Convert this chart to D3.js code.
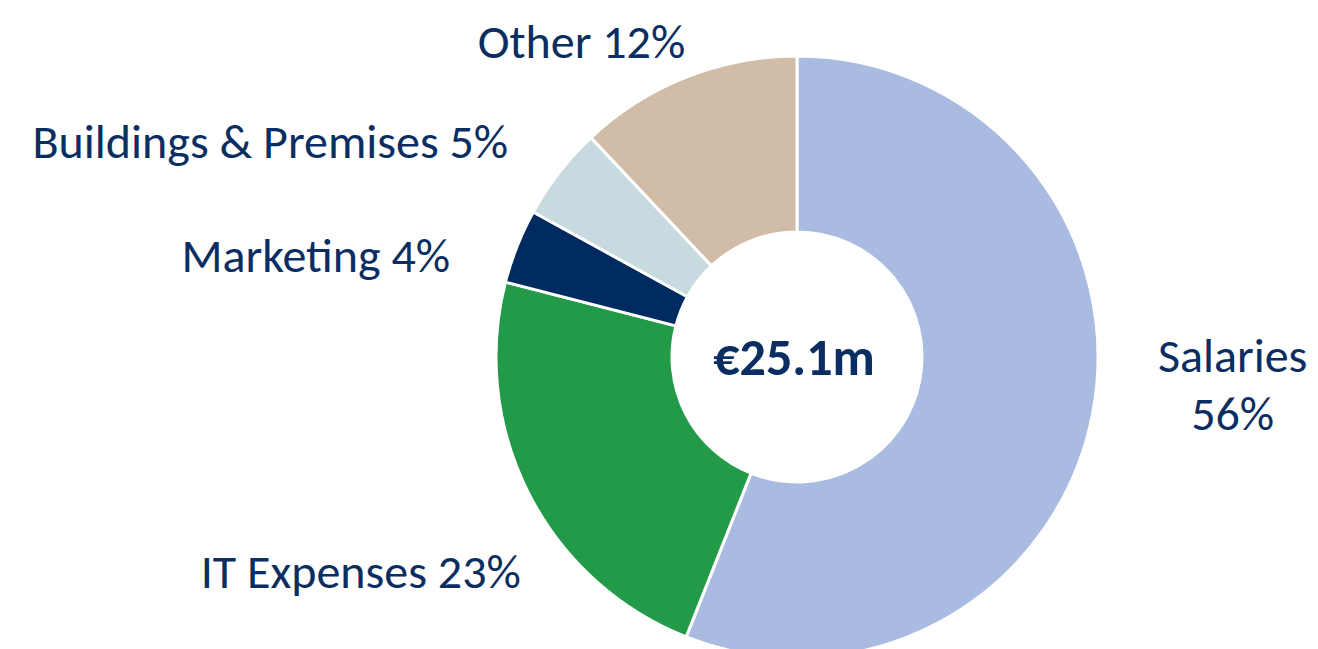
<!DOCTYPE html>
<html>
<head>
<meta charset="utf-8">
<script src="https://cdn.jsdelivr.net/npm/d3@7"></script>
<style>
  html, body { margin: 0; padding: 0; background: #fff; }
  svg { display: block; }
  text { font-family: Carlito, Calibri, Lato, "Open Sans", sans-serif; fill: #0B2E62; }
</style>
</head>
<body>
<svg id="chart" width="1318" height="649"></svg>
<script>
// cost breakdown, share of total (%)
const categories = ["Salaries", "IT Expenses", "Marketing", "Buildings & Premises", "Other"];
const shares = [56, 23, 4, 5, 12];
const colours = ["#A9BBE1", "#229A48", "#002B60", "#C7DAE0", "#D1BCA8"];
const totalLabel = "€25.1m";

// label placement relative to the slice's outer mid-point (manual, like the original)
const labelOffsets = [
    { dx: 140, dy: -41, anchor: "middle", lines: ["Salaries", "56%"] },
    { dx: -8, dy: 94, anchor: "end" },
    { dx: -67, dy: 26, anchor: "end" },
    { dx: -51, dy: -15, anchor: "end" },
    { dx: -1, dy: -19, anchor: "end" }
];

const cx = 797, cy = 357;
const outerR = 301, innerR = 125;

const svg = d3.select("#chart");
const g = svg.append("g").attr("transform", `translate(${cx},${cy})`);

const pie = d3.pie().sort(null).value(d => d)(shares);
const arc = d3.arc().innerRadius(innerR).outerRadius(outerR);

g.selectAll("path.slice")
    .data(pie)
    .join("path")
    .attr("class", "slice")
    .attr("d", arc)
    .attr("fill", (d, i) => colours[i])
    .attr("stroke", "#fff")
    .attr("stroke-width", 3);

// labels
pie.forEach((d, i) => {
    const mid = (d.startAngle + d.endAngle) / 2;
    const x = outerR * Math.sin(mid) + labelOffsets[i].dx;
    const y = -outerR * Math.cos(mid) + labelOffsets[i].dy;
    const t = g.append("text")
        .attr("x", x)
        .attr("y", y)
        .attr("text-anchor", labelOffsets[i].anchor)
        .style("font-size", "48px");
    const lines = labelOffsets[i].lines || [`${categories[i]} ${shares[i]}%`];
    lines.forEach((ln, j) => {
        t.append("tspan").attr("x", x).attr("dy", j === 0 ? 0 : 58).text(ln);
    });
});

// total in the middle
g.append("text")
    .attr("x", -3)
    .attr("y", 18)
    .attr("text-anchor", "middle")
    .style("font-size", "52px")
    .style("font-weight", "bold")
    .text(totalLabel);
</script>
</body>
</html>
